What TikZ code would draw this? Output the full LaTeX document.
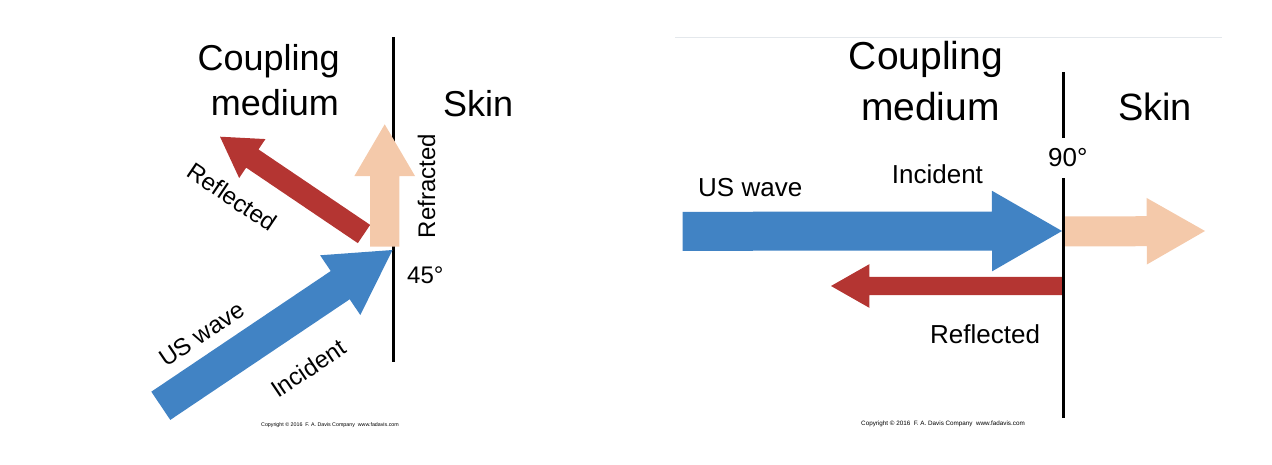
\documentclass[tikz,border=0pt]{standalone}
\usepackage{fontspec}
\setmainfont{Liberation Sans}
\usetikzlibrary{calc}
\definecolor{usblue}{RGB}{65,131,196}
\definecolor{usred}{RGB}{180,53,50}
\definecolor{uspeach}{RGB}{244,201,170}
\definecolor{rulegray}{RGB}{228,232,236}
\newcommand{\fatarrow}[6]{% tail, tip, shaft half width, head half width, head length, colour
  \coordinate (#1-b) at ($(#2)!#5!(#1)$);
  \fill[#6] ($(#1)!#3!90:(#2)$) -- ($(#1-b)!#3!90:(#2)$) -- ($(#1-b)!#4!90:(#2)$) -- (#2)
    -- ($(#1-b)!#4!-90:(#2)$) -- ($(#1-b)!#3!-90:(#2)$) -- ($(#1)!#3!-90:(#2)$) -- cycle;}
\tikzset{
  lbl/.style={inner sep=0pt, font=\fontsize{#1pt}{#1pt}\selectfont},
  boundary/.style={line width=3pt, black},
}
\begin{document}
\begin{tikzpicture}[x=1pt,y=-1pt]
\useasboundingbox (0,0) rectangle (1272,464);
% ---------------- left panel ----------------
\coordinate (L-top) at (393,37);
\coordinate (L-bot) at (393,362);
\draw[boundary] (L-top) -- (L-bot);
\coordinate (Linc-t) at (160.8,405.8);
\coordinate (Linc-p) at (392.5,250);
\coordinate (Lref-t) at (364,234);
\coordinate (Lref-p) at (220,136.7);
\coordinate (Lfr-t) at (384.7,246.7);
\coordinate (Lfr-p) at (384.7,124.3);
\fatarrow{Linc-t}{Linc-p}{17pt}{36pt}{63pt}{usblue}
\fatarrow{Lref-t}{Lref-p}{11pt}{23.5pt}{39pt}{usred}
\fatarrow{Lfr-t}{Lfr-p}{14.7pt}{30.3pt}{51.7pt}{uspeach}
\node[lbl=36, anchor=base east] (Lcoup) at (340,70.7) {Coupling};
\node[lbl=36, anchor=base east] (Lmed) at (339,115) {medium};
\node[lbl=36, anchor=base west] (Lskin) at (443,116) {Skin};
\node[lbl=24, anchor=base, rotate=90] (Lrefr) at (435,186) {Refracted};
\node[lbl=24, anchor=base west] (L45) at (407,283) {45°};
\node[lbl=24, rotate=-34] (Lrefl) at (232,197) {Reflected};
\node[lbl=24, rotate=34] (Lus) at (201.7,334) {US wave};
\node[lbl=24, rotate=34] (Linc) at (308.3,368.3) {Incident};
\node[lbl=5.3] (Lcopy) at (330,425) {Copyright © 2016\ \ F. A. Davis Company\ \ www.fadavis.com};
% ---------------- right panel ----------------
\coordinate (R-rl) at (675,37.3);
\coordinate (R-rr) at (1222,37.3);
\draw[rulegray, line width=1pt] (R-rl) -- (R-rr);
\coordinate (Rinc-t) at (682.7,231.3);
\coordinate (Rinc-p) at (1062,231);
\coordinate (Rfr-t) at (1063,231.5);
\coordinate (Rfr-p) at (1205,231);
\coordinate (Rref-t) at (1063,286);
\coordinate (Rref-p) at (831,286);
\fatarrow{Rinc-t}{Rinc-p}{19.5pt}{40.3pt}{70pt}{usblue}
\fatarrow{Rfr-t}{Rfr-p}{15pt}{33.3pt}{58.3pt}{uspeach}
\fatarrow{Rref-t}{Rref-p}{9.2pt}{21.8pt}{38.3pt}{usred}
\coordinate (R-top) at (1063,72);
\coordinate (R-gap1) at (1063,138);
\coordinate (R-gap2) at (1063,178);
\coordinate (R-bot) at (1063,418);
\draw[boundary] (R-top) -- (R-gap1);
\draw[boundary] (R-gap2) -- (R-bot);
\node[lbl=39, anchor=base east] (Rcoup) at (1003,69) {Coupling};
\node[lbl=39, anchor=base east] (Rmed) at (1000,120) {medium};
\node[lbl=38, anchor=base west] (Rskin) at (1118,120.7) {Skin};
\node[lbl=26, anchor=base west] (Rus) at (698,196.7) {US wave};
\node[lbl=26, anchor=base west] (Rinc) at (891.7,183.3) {Incident};
\node[lbl=26, anchor=base west] (R90) at (1048,166.7) {90°};
\node[lbl=26, anchor=base west] (Rrefl) at (930,343.3) {Reflected};
\node[lbl=6.3] (Rcopy) at (943,424) {Copyright © 2016\ \ F. A. Davis Company\ \ www.fadavis.com};
\end{tikzpicture}
\end{document}
